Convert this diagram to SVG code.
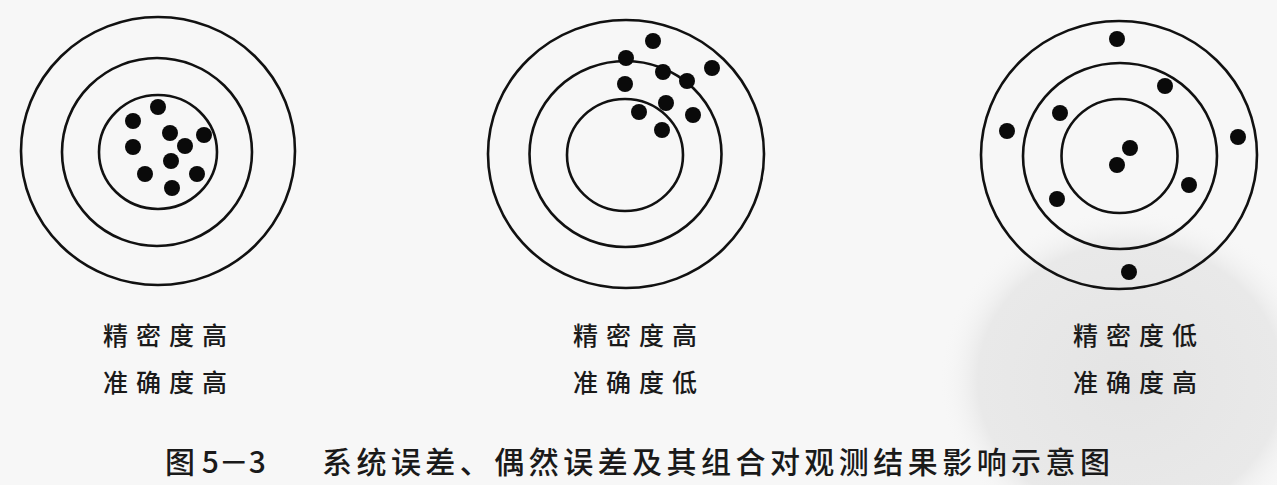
<svg xmlns="http://www.w3.org/2000/svg" width="1277" height="485" viewBox="0 0 1277 485">
<style>
.ring{fill:none;stroke:#111;stroke-width:2.6}
.dot{fill:#0a0a0a}
.lbl{font-family:"Noto Sans CJK SC","Noto Sans",sans-serif;font-size:25px;font-weight:500;fill:#1a1a1a;letter-spacing:8px}
.cap{font-family:"Noto Sans CJK SC","Noto Sans",sans-serif;font-size:30px;font-weight:500;fill:#1a1a1a}
</style>
<defs>
<radialGradient id="blob" cx="0.5" cy="0.5" r="0.5">
<stop offset="0" stop-color="#e4e4e4"/>
<stop offset="0.8" stop-color="#e9e9e9"/>
<stop offset="1" stop-color="#f6f6f6" stop-opacity="0"/>
</radialGradient>
</defs>
<rect width="1277" height="485" fill="#f7f7f7"/>
<ellipse cx="1130" cy="380" rx="190" ry="170" fill="url(#blob)"/>
<g id="target-1">
<ellipse class="ring" cx="158" cy="151" rx="137" ry="134"/>
<ellipse class="ring" cx="157" cy="152" rx="95" ry="94"/>
<ellipse class="ring" cx="158" cy="152" rx="59" ry="57"/>
<circle class="dot" cx="158" cy="107" r="8"/>
<circle class="dot" cx="133" cy="121" r="8"/>
<circle class="dot" cx="170" cy="133" r="8"/>
<circle class="dot" cx="204" cy="135" r="8"/>
<circle class="dot" cx="133" cy="147" r="8"/>
<circle class="dot" cx="185" cy="146" r="8"/>
<circle class="dot" cx="171" cy="161" r="8"/>
<circle class="dot" cx="145" cy="174" r="8"/>
<circle class="dot" cx="197" cy="174" r="8"/>
<circle class="dot" cx="172" cy="188" r="8"/>
</g>
<g id="target-2">
<ellipse class="ring" cx="626" cy="154" rx="138" ry="134"/>
<ellipse class="ring" cx="625.5" cy="154" rx="96" ry="93"/>
<ellipse class="ring" cx="625" cy="155" rx="58" ry="56"/>
<circle class="dot" cx="653" cy="41" r="8"/>
<circle class="dot" cx="626" cy="58" r="8"/>
<circle class="dot" cx="712" cy="68" r="8"/>
<circle class="dot" cx="663" cy="72" r="8"/>
<circle class="dot" cx="687" cy="81" r="8"/>
<circle class="dot" cx="625" cy="84" r="8"/>
<circle class="dot" cx="666" cy="103" r="8"/>
<circle class="dot" cx="693" cy="115" r="8"/>
<circle class="dot" cx="639" cy="112" r="8"/>
<circle class="dot" cx="662" cy="130" r="8"/>
</g>
<g id="target-3">
<ellipse class="ring" cx="1119" cy="155" rx="138" ry="134"/>
<ellipse class="ring" cx="1120" cy="156" rx="97" ry="93"/>
<ellipse class="ring" cx="1119.5" cy="156" rx="58" ry="57"/>
<circle class="dot" cx="1117" cy="39" r="8"/>
<circle class="dot" cx="1165" cy="86" r="8"/>
<circle class="dot" cx="1060" cy="113" r="8"/>
<circle class="dot" cx="1007" cy="131" r="8"/>
<circle class="dot" cx="1238" cy="137" r="8"/>
<circle class="dot" cx="1130" cy="148" r="8"/>
<circle class="dot" cx="1117" cy="165" r="8"/>
<circle class="dot" cx="1189" cy="185" r="8"/>
<circle class="dot" cx="1057" cy="199" r="8"/>
<circle class="dot" cx="1129" cy="272" r="8"/>
</g>
<g id="labels">
<text class="lbl" x="103" y="345">精密度高</text>
<text class="lbl" x="103" y="392">准确度高</text>
<text class="lbl" x="573" y="345">精密度高</text>
<text class="lbl" x="573" y="392">准确度低</text>
<text class="lbl" x="1073" y="345">精密度低</text>
<text class="lbl" x="1073" y="392">准确度高</text>
</g>
<g id="caption">
<text class="cap" x="165" y="473">图 5－3</text>
<text class="cap" x="322" y="473" textLength="788" lengthAdjust="spacing">系统误差、偶然误差及其组合对观测结果影响示意图</text>
</g>
</svg>
